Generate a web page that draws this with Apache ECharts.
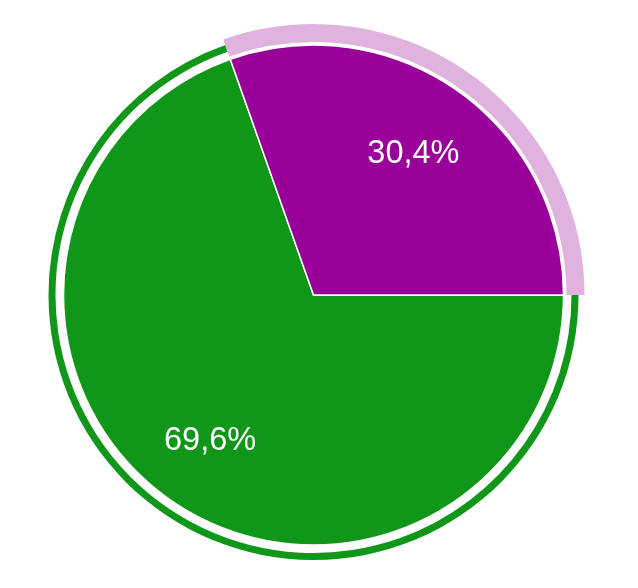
<!DOCTYPE html>
<html>
<head>
<meta charset="utf-8">
<script src="https://cdn.jsdelivr.net/npm/echarts@6/dist/echarts.min.js"></script>
<style>
html,body{margin:0;padding:0;background:#fff;}
#c{width:638px;height:588px;}
</style>
</head>
<body>
<div id="c"></div>
<script>
var categories = ['Green', 'Purple'];
var values = [69.6, 30.4];
var colors = ['#109618', '#990099'];
var ringColor = '#e0b3df';

var chart = echarts.init(document.getElementById('c'), null, {renderer: 'canvas'});
var center = [313.5, 295];
function fmt(p) { return p.value.toFixed(1).replace('.', ',') + '%'; }

var mainData = categories.map(function (n, i) {
  return {name: n, value: values[i], itemStyle: {color: colors[i]}};
});
var greenRing = categories.map(function (n, i) {
  return {name: n, value: values[i], itemStyle: {color: i === 0 ? colors[0] : 'rgba(0,0,0,0)'}};
});
var purpleRing = categories.map(function (n, i) {
  return {name: n, value: values[i], itemStyle: {color: i === 1 ? ringColor : 'rgba(0,0,0,0)'}};
});
function labelData(showIdx) {
  return categories.map(function (n, i) {
    return {name: n, value: values[i], itemStyle: {color: 'rgba(0,0,0,0)'},
      label: {show: i === showIdx}};
  });
}

var common = {
  type: 'pie', center: center, startAngle: 0, clockwise: true,
  silent: true, animation: false, label: {show: false}, labelLine: {show: false},
  emphasis: {disabled: true}
};
var labelStyle = {
  show: true, position: 'inside', formatter: fmt,
  color: '#fff', fontSize: 32.5, fontFamily: 'Liberation Sans, Arial, sans-serif'
};

chart.setOption({
  backgroundColor: '#fff',
  series: [
    Object.assign({}, common, {
      radius: [258, 265], data: greenRing
    }),
    Object.assign({}, common, {
      radius: [253, 271], data: purpleRing
    }),
    Object.assign({}, common, {
      radius: [0, 250], data: mainData,
      itemStyle: {borderColor: '#fff', borderWidth: 1.5}
    }),
    Object.assign({}, common, {
      radius: [102, 250], data: labelData(0), label: labelStyle
    }),
    Object.assign({}, common, {
      radius: [90, 250], data: labelData(1), label: labelStyle
    })
  ]
});
</script>
</body>
</html>
